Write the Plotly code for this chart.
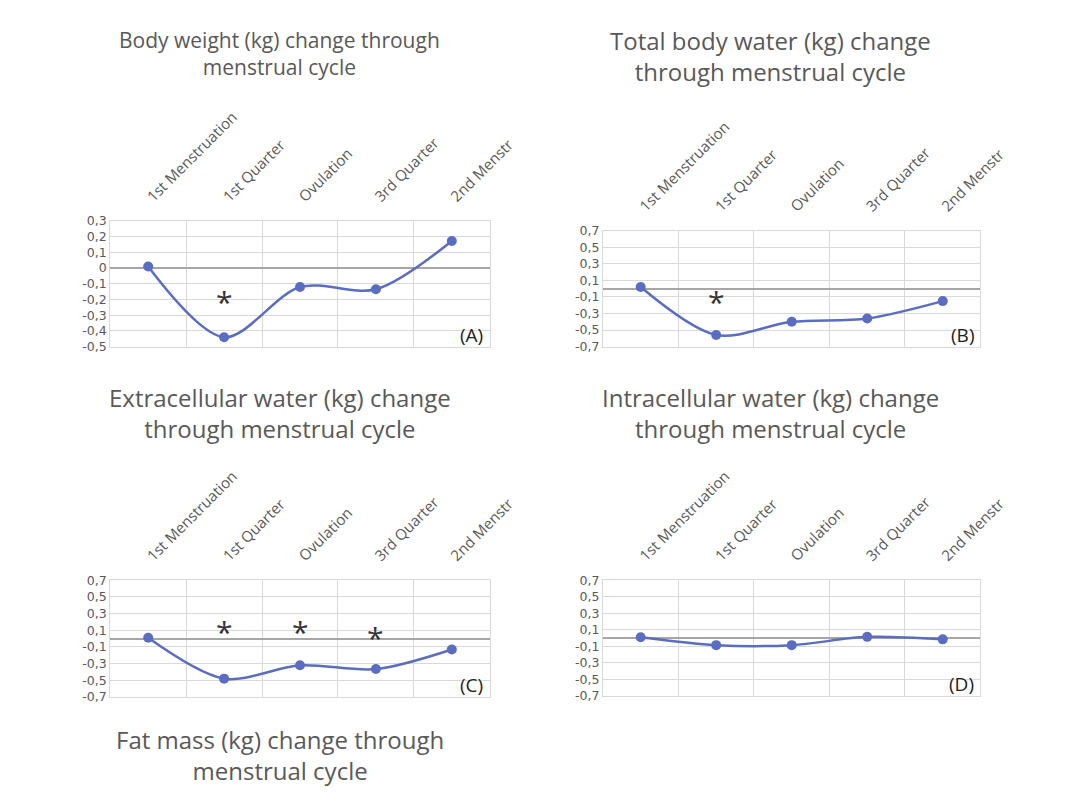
import plotly.graph_objects as go

W, H = 1066, 810

phases = ["1st Menstruation", "1st Quarter", "Ovulation", "3rd Quarter", "2nd Menstr"]

body_weight = [0.01, -0.44, -0.12, -0.135, 0.173]
total_body_water = [0.02, -0.56, -0.40, -0.36, -0.15]
extracellular_water = [0.01, -0.48, -0.32, -0.365, -0.13]
intracellular_water = [0.01, -0.085, -0.085, 0.015, -0.015]

# significance markers (category, y-position)
stars_A = [("1st Quarter", -0.21)]
stars_B = [("1st Quarter", -0.15)]
stars_C = [("1st Quarter", 0.08), ("Ovulation", 0.08), ("3rd Quarter", 0.01)]
stars_D = []

ticks_small = [-0.5, -0.4, -0.3, -0.2, -0.1, 0, 0.1, 0.2, 0.3]
ticks_wide = [-0.7, -0.5, -0.3, -0.1, 0.1, 0.3, 0.5, 0.7]


def fmt(v):
    if abs(v) < 1e-9:
        return "0"
    return f"{v:.1f}".replace(".", ",")


LINE = "#5B6DC2"
GRID = "#d9d9d9"
TXT = "#595959"
FONT = "Open Sans"


def px_x(p):
    return p / W


def px_y(p):
    return 1 - p / H


panels = [
    dict(data=body_weight, stars=stars_A, dom=(113, 502, 217, 345), rng=(-0.5, 0.3), ticks=ticks_small, tag="(A)"),
    dict(data=total_body_water, stars=stars_B, dom=(618, 1005, 227, 345), rng=(-0.7, 0.7), ticks=ticks_wide, tag="(B)"),
    dict(data=extracellular_water, stars=stars_C, dom=(113, 502, 583, 702), rng=(-0.7, 0.7), ticks=ticks_wide, tag="(C)"),
    dict(data=intracellular_water, stars=stars_D, dom=(618, 1005, 583, 701), rng=(-0.7, 0.7), ticks=ticks_wide, tag="(D)"),
]

fig = go.Figure()
annotations = []
layout = {}
for i, p in enumerate(panels):
    n = "" if i == 0 else str(i + 1)
    xa, ya = "x" + n, "y" + n
    x0, x1, y0, y1 = p["dom"]
    fig.add_trace(go.Scatter(
        x=phases, y=p["data"], xaxis=xa, yaxis=ya, mode="lines+markers",
        line=dict(color=LINE, width=2.5, shape="spline", smoothing=0.9),
        marker=dict(color=LINE, size=10), showlegend=False, hoverinfo="skip",
    ))
    layout["xaxis" + n] = dict(
        domain=[px_x(x0), px_x(x1)], anchor=ya, type="category", side="top",
        categoryorder="array", categoryarray=phases, range=[-0.5, 4.5],
        tickangle=-45, tickfont=dict(family=FONT, size=15, color=TXT),
        ticklabelstandoff=9,
        showgrid=True, gridcolor=GRID, tickson="boundaries", ticks="",
        showline=True, mirror=True, linecolor=GRID, linewidth=1, fixedrange=True,
    )
    layout["yaxis" + n] = dict(
        domain=[px_y(y1), px_y(y0)], anchor=xa, range=list(p["rng"]),
        tickvals=p["ticks"], ticktext=[fmt(v) for v in p["ticks"]],
        tickfont=dict(family="DejaVu Sans", size=12.5, color=TXT),
        showgrid=True, gridcolor=GRID, zeroline=True, zerolinecolor="#a6a6a6",
        zerolinewidth=1.5, showline=True, mirror=True, linecolor=GRID, linewidth=1,
        ticks="", fixedrange=True,
    )
    for cat, yv in p["stars"]:
        annotations.append(dict(
            x=cat, y=yv, xref=xa, yref=ya, text="*", showarrow=False,
            font=dict(family=FONT, size=30, color="#333333"), yanchor="middle",
        ))
    annotations.append(dict(
        x=px_x(x1 - 5), y=px_y(y1 - 12), xref="paper", yref="paper", text=p["tag"],
        showarrow=False, xanchor="right", yanchor="middle",
        font=dict(family=FONT, size=19, color="#222222"),
    ))

titles = [
    ("Body weight (kg) change through<br>menstrual cycle", 286, 46, 21),
    ("Total body water (kg) change<br>through menstrual cycle", 790, 49, 24),
    ("Extracellular water (kg) change<br>through menstrual cycle", 287, 413, 24),
    ("Intracellular water (kg) change<br>through menstrual cycle", 790, 413, 24),
    ("Fat mass (kg) change through<br>menstrual cycle", 287, 761, 24),
]
for text, cx, cy, fs in titles:
    annotations.append(dict(
        x=px_x(cx), y=px_y(cy), xref="paper", yref="paper", text=text,
        showarrow=False, xanchor="center", yanchor="middle", align="center",
        font=dict(family=FONT, size=fs, color=TXT),
    ))

fig.update_layout(
    width=W, height=H, margin=dict(l=0, r=0, t=0, b=0),
    paper_bgcolor="white", plot_bgcolor="white",
    annotations=annotations, **layout,
)

fig.write_html("out.html")
